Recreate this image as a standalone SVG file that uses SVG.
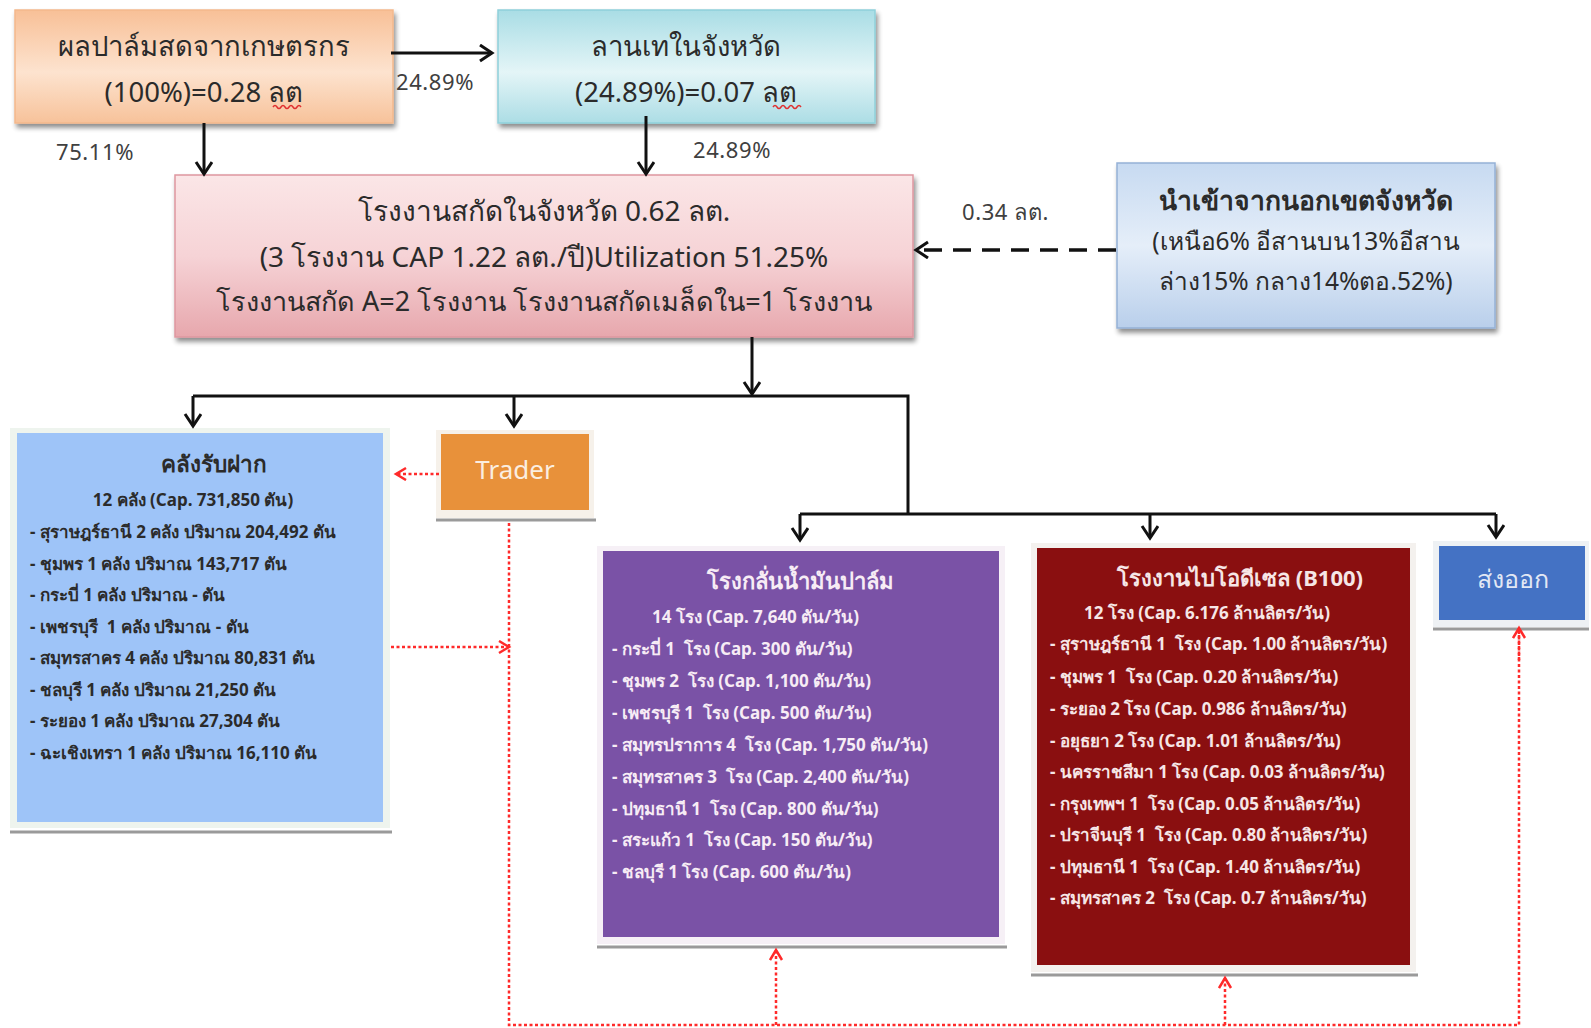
<svg xmlns="http://www.w3.org/2000/svg" width="1591" height="1028" viewBox="0 0 1591 1028">
<defs>
<style>
.t{font-family:"Noto Sans","DejaVu Sans",sans-serif;fill:#2b2b2b}
.big{font-size:27.5px}
.lbl{font-size:22px;fill:#404040;letter-spacing:0.6px}
.sm{font-size:17px;font-weight:bold;white-space:pre}
.wt{fill:#f7ecf5}
.wr{fill:#f6e6e6}
.ln{stroke:#111;stroke-width:3;fill:none}
.rd{stroke:#ff2a2a;stroke-width:2.5;fill:none;stroke-dasharray:3 2.5}
.shline{stroke:#9a9a9a;stroke-width:3}
</style>
<linearGradient id="gOr" x1="0" y1="0" x2="0" y2="1"><stop offset="0" stop-color="#f8c097"/><stop offset="0.55" stop-color="#fde3cf"/><stop offset="1" stop-color="#f7c29a"/></linearGradient>
<linearGradient id="gCy" x1="0" y1="0" x2="0" y2="1"><stop offset="0" stop-color="#a9dde5"/><stop offset="0.55" stop-color="#e4f5f7"/><stop offset="1" stop-color="#acdde5"/></linearGradient>
<linearGradient id="gPk" x1="0" y1="0" x2="0" y2="1"><stop offset="0" stop-color="#fbe6e7"/><stop offset="0.5" stop-color="#f6d3d6"/><stop offset="1" stop-color="#e7a7ad"/></linearGradient>
<linearGradient id="gBl" x1="0" y1="0" x2="0" y2="1"><stop offset="0" stop-color="#c7daf1"/><stop offset="0.5" stop-color="#e5eef9"/><stop offset="1" stop-color="#b9cfeb"/></linearGradient>
<filter id="sh" x="-5%" y="-10%" width="110%" height="130%"><feGaussianBlur in="SourceAlpha" stdDeviation="2.5"/><feOffset dx="2" dy="4"/><feComponentTransfer><feFuncA type="linear" slope="0.45"/></feComponentTransfer><feMerge><feMergeNode/><feMergeNode in="SourceGraphic"/></feMerge></filter>
<marker id="ah" markerUnits="userSpaceOnUse" markerWidth="20" markerHeight="20" refX="14" refY="9" orient="auto"><path d="M2,1 L14,9 L2,17" fill="none" stroke="#111" stroke-width="3"/></marker>
<marker id="ar" markerUnits="userSpaceOnUse" markerWidth="16" markerHeight="16" refX="11" refY="7" orient="auto"><path d="M1,1 L11,7 L1,13" fill="none" stroke="#ff2a2a" stroke-width="2.5"/></marker>
</defs>
<rect width="1591" height="1028" fill="#ffffff"/>

<g id="farmers">
<rect x="15" y="10" width="378" height="113" fill="url(#gOr)" stroke="#f3b88c" stroke-width="1.5" filter="url(#sh)"/>
<text class="t big" x="204" y="56" text-anchor="middle">ผลปาล์มสดจากเกษตรกร</text>
<text class="t big" x="204" y="102" text-anchor="middle">(100%)=0.28 ลต</text>
<path d="M273,107 q2,-3 4,0 t4,0 t4,0 t4,0 t4,0 t4,0 t4,0" fill="none" stroke="#e03030" stroke-width="1.5"/>
</g>

<g id="yard">
<rect x="498" y="10" width="377" height="113" fill="url(#gCy)" stroke="#8fd0da" stroke-width="1.5" filter="url(#sh)"/>
<text class="t big" x="686" y="56" text-anchor="middle">ลานเทในจังหวัด</text>
<text class="t big" x="686" y="102" text-anchor="middle">(24.89%)=0.07 ลต</text>
<path d="M773,107 q2,-3 4,0 t4,0 t4,0 t4,0 t4,0 t4,0 t4,0" fill="none" stroke="#e03030" stroke-width="1.5"/>
</g>

<g id="extract">
<rect x="175" y="175" width="738" height="162" fill="url(#gPk)" stroke="#de97a0" stroke-width="1.5" filter="url(#sh)"/>
<text class="t" font-size="28" x="544" y="221" text-anchor="middle">โรงงานสกัดในจังหวัด 0.62 ลต.</text>
<text class="t" font-size="28" x="544" y="267" text-anchor="middle">(3 โรงงาน CAP 1.22 ลต./ปี)Utilization 51.25%</text>
<text class="t" font-size="27" x="544" y="311" text-anchor="middle">โรงงานสกัด A=2 โรงงาน โรงงานสกัดเมล็ดใน=1 โรงงาน</text>
</g>

<g id="import">
<rect x="1117" y="163" width="378" height="165" fill="url(#gBl)" stroke="#95b1d6" stroke-width="1.5" filter="url(#sh)"/>
<text class="t" x="1306" y="210" text-anchor="middle" font-size="26.5" font-weight="bold">นำเข้าจากนอกเขตจังหวัด</text>
<text class="t" x="1306" y="250" text-anchor="middle" font-size="24.5">(เหนือ6% อีสานบน13%อีสาน</text>
<text class="t" x="1306" y="290" text-anchor="middle" font-size="24.5">ล่าง15% กลาง14%ตอ.52%)</text>
</g>

<g id="warehouse">
<rect x="10" y="428" width="380" height="400" fill="#eef4ee"/>
<line class="shline" x1="10" y1="832" x2="392" y2="832"/>
<rect x="17" y="433" width="366" height="389" fill="#9ec4f8"/>
<text class="t" x="214" y="472" text-anchor="middle" font-size="22.5" font-weight="bold">คลังรับฝาก</text>
<text class="t sm" x="193" y="506" text-anchor="middle">12 คลัง (Cap. 731,850 ตัน)</text>
<text class="t sm" x="30" y="538">- สุราษฎร์ธานี 2 คลัง ปริมาณ 204,492 ตัน</text>
<text class="t sm" x="30" y="570">- ชุมพร 1 คลัง ปริมาณ 143,717 ตัน</text>
<text class="t sm" x="30" y="601">- กระบี่ 1 คลัง ปริมาณ - ตัน</text>
<text class="t sm" x="30" y="633">- เพชรบุรี  1 คลัง ปริมาณ - ตัน</text>
<text class="t sm" x="30" y="664">- สมุทรสาคร 4 คลัง ปริมาณ 80,831 ตัน</text>
<text class="t sm" x="30" y="696">- ชลบุรี 1 คลัง ปริมาณ 21,250 ตัน</text>
<text class="t sm" x="30" y="727">- ระยอง 1 คลัง ปริมาณ 27,304 ตัน</text>
<text class="t sm" x="30" y="759">- ฉะเชิงเทรา 1 คลัง ปริมาณ 16,110 ตัน</text>
</g>

<g id="trader">
<rect x="436" y="430" width="158" height="88" fill="#f6f1ea"/>
<line class="shline" x1="436" y1="520" x2="596" y2="520"/>
<rect x="441" y="434" width="148" height="76" fill="#e8913a"/>
<text x="515" y="479" text-anchor="middle" font-family="Noto Sans, DejaVu Sans, sans-serif" font-size="26" fill="#fbeee0">Trader</text>
</g>

<g id="refinery">
<rect x="597" y="546" width="408" height="398" fill="#f6f0f6"/>
<line class="shline" x1="597" y1="947" x2="1007" y2="947"/>
<rect x="603" y="551" width="396" height="386" fill="#7a52a6"/>
<text class="t wt" x="800" y="589" text-anchor="middle" font-size="22" font-weight="bold">โรงกลั่นน้ำมันปาล์ม</text>
<text class="t sm wt" x="652" y="623">14 โรง (Cap. 7,640 ตัน/วัน)</text>
<text class="t sm wt" x="612" y="655">- กระบี่ 1  โรง (Cap. 300 ตัน/วัน)</text>
<text class="t sm wt" x="612" y="687">- ชุมพร 2  โรง (Cap. 1,100 ตัน/วัน)</text>
<text class="t sm wt" x="612" y="719">- เพชรบุรี 1  โรง (Cap. 500 ตัน/วัน)</text>
<text class="t sm wt" x="612" y="751">- สมุทรปราการ 4  โรง (Cap. 1,750 ตัน/วัน)</text>
<text class="t sm wt" x="612" y="783">- สมุทรสาคร 3  โรง (Cap. 2,400 ตัน/วัน)</text>
<text class="t sm wt" x="612" y="815">- ปทุมธานี 1  โรง (Cap. 800 ตัน/วัน)</text>
<text class="t sm wt" x="612" y="846">- สระแก้ว 1  โรง (Cap. 150 ตัน/วัน)</text>
<text class="t sm wt" x="612" y="878">- ชลบุรี 1 โรง (Cap. 600 ตัน/วัน)</text>
</g>

<g id="biodiesel">
<rect x="1031" y="543" width="385" height="429" fill="#f4f1ee"/>
<line class="shline" x1="1031" y1="975" x2="1418" y2="975"/>
<rect x="1037" y="548" width="373" height="417" fill="#8a0f10"/>
<text class="t wr" x="1240" y="586" text-anchor="middle" font-size="22" font-weight="bold">โรงงานไบโอดีเซล (B100)</text>
<text class="t sm wr" x="1084" y="619">12 โรง (Cap. 6.176 ล้านลิตร/วัน)</text>
<text class="t sm wr" x="1050" y="650">- สุราษฎร์ธานี 1  โรง (Cap. 1.00 ล้านลิตร/วัน)</text>
<text class="t sm wr" x="1050" y="683">- ชุมพร 1  โรง (Cap. 0.20 ล้านลิตร/วัน)</text>
<text class="t sm wr" x="1050" y="715">- ระยอง 2 โรง (Cap. 0.986 ล้านลิตร/วัน)</text>
<text class="t sm wr" x="1050" y="747">- อยุธยา 2 โรง (Cap. 1.01 ล้านลิตร/วัน)</text>
<text class="t sm wr" x="1050" y="778">- นครราชสีมา 1 โรง (Cap. 0.03 ล้านลิตร/วัน)</text>
<text class="t sm wr" x="1050" y="810">- กรุงเทพฯ 1  โรง (Cap. 0.05 ล้านลิตร/วัน)</text>
<text class="t sm wr" x="1050" y="841">- ปราจีนบุรี 1  โรง (Cap. 0.80 ล้านลิตร/วัน)</text>
<text class="t sm wr" x="1050" y="873">- ปทุมธานี 1  โรง (Cap. 1.40 ล้านลิตร/วัน)</text>
<text class="t sm wr" x="1050" y="904">- สมุทรสาคร 2  โรง (Cap. 0.7 ล้านลิตร/วัน)</text>
</g>

<g id="export">
<rect x="1433" y="541" width="156" height="86" fill="#eef1f4"/>
<line class="shline" x1="1433" y1="629" x2="1589" y2="629"/>
<rect x="1439" y="546" width="146" height="74" fill="#4472c4"/>
<text x="1513" y="588" text-anchor="middle" font-family="Noto Sans, DejaVu Sans, sans-serif" font-size="25" fill="#e2e8f4">ส่งออก</text>
</g>

<g id="connectors">
<line class="ln" x1="391" y1="53" x2="492" y2="53" marker-end="url(#ah)"/>
<line class="ln" x1="204" y1="123" x2="204" y2="174" marker-end="url(#ah)"/>
<line class="ln" x1="646" y1="116" x2="646" y2="174" marker-end="url(#ah)"/>
<line x1="1116" y1="250" x2="916" y2="250" stroke="#111" stroke-width="3.5" stroke-dasharray="18 11" marker-end="url(#ah)"/>
<line class="ln" x1="752" y1="337" x2="752" y2="394" marker-end="url(#ah)"/>
<polyline class="ln" points="908,514 908,396 193,396"/>
<line class="ln" x1="193" y1="396" x2="193" y2="426" marker-end="url(#ah)"/>
<line class="ln" x1="514" y1="396" x2="514" y2="426" marker-end="url(#ah)"/>
<line class="ln" x1="800" y1="514" x2="1496" y2="514"/>
<line class="ln" x1="800" y1="514" x2="800" y2="540" marker-end="url(#ah)"/>
<line class="ln" x1="1150" y1="514" x2="1150" y2="538" marker-end="url(#ah)"/>
<line class="ln" x1="1496" y1="514" x2="1496" y2="537" marker-end="url(#ah)"/>
<line class="rd" x1="439" y1="474" x2="396" y2="474" marker-end="url(#ar)"/>
<line class="rd" x1="391" y1="647" x2="509" y2="647" marker-end="url(#ar)"/>
<polyline class="rd" points="509,523 509,1025 1519,1025 1519,628"/>
<line class="rd" x1="1519" y1="660" x2="1519" y2="628" marker-end="url(#ar)"/>
<line class="rd" x1="776" y1="1025" x2="776" y2="950" marker-end="url(#ar)"/>
<line class="rd" x1="1225" y1="1025" x2="1225" y2="978" marker-end="url(#ar)"/>
<text class="t lbl" x="396" y="90">24.89%</text>
<text class="t lbl" x="56" y="160">75.11%</text>
<text class="t lbl" x="693" y="158">24.89%</text>
<text class="t lbl" x="962" y="220">0.34 ลต.</text>
</g>
</svg>
